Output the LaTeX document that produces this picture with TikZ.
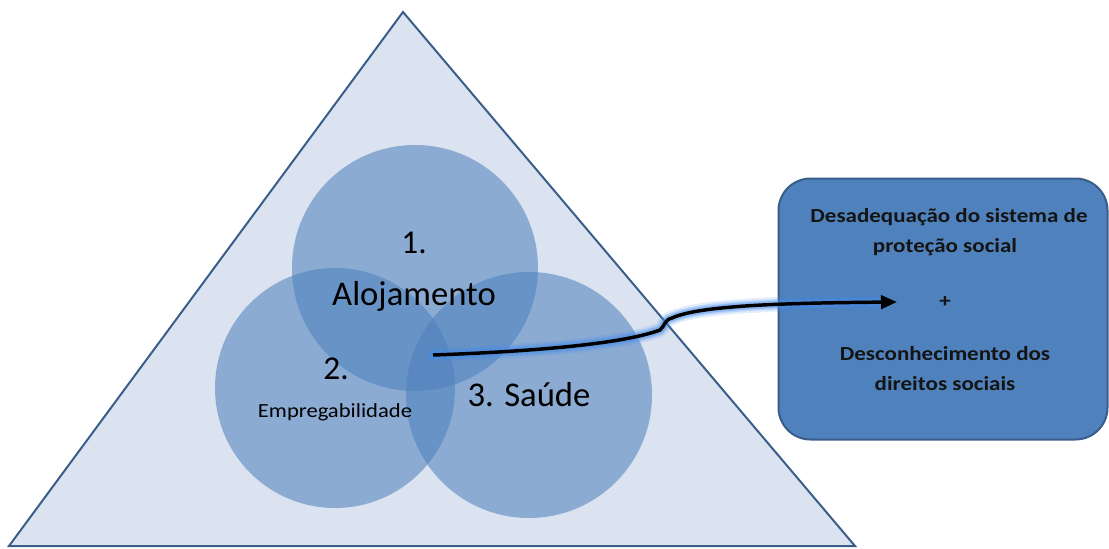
\documentclass[tikz,border=0pt]{standalone}
\usepackage{fontspec}
\setmainfont{Carlito}
\newfontfamily\wideboxfont[FakeStretch=1.15]{Carlito}
\newfontfamily\widesmallfont[FakeStretch=1.13]{Carlito}
\usetikzlibrary{arrows.meta}
\definecolor{trifill}{RGB}{220,227,240}
\definecolor{triline}{RGB}{58,94,138}
\definecolor{circfill}{RGB}{79,129,189}
\definecolor{boxfill}{RGB}{79,129,189}
\definecolor{boxline}{RGB}{56,93,138}
\definecolor{glow}{RGB}{70,140,235}
\tikzset{
  venn/.style={circle, fill=circfill, fill opacity=0.57, inner sep=0pt},
  lbl/.style={text=black, inner sep=0pt, align=center},
  boxtxt/.style={font=\wideboxfont\fontsize{15}{18}\selectfont\bfseries, text=black!92, inner sep=0pt},
}
\begin{document}
\begin{tikzpicture}[x=0.75pt,y=-0.75pt]
\useasboundingbox (0,0) rectangle (1109,549);
% triangle
\draw[triline, line width=1.5pt, fill=trifill, line join=miter] (403,12) -- (855,546) -- (9,546) -- cycle;
% circles
\node[venn, minimum size=246*0.75pt] (c1) at (415,268) {};
\node[venn, minimum size=240*0.75pt] (c2) at (335,388) {};
\node[venn, minimum size=246*0.75pt] (c3) at (529,395) {};
% labels
\node[lbl, font=\fontsize{25}{28}\selectfont] (l1a) at (414,243) {1.};
\node[lbl, font=\fontsize{26}{30}\selectfont] (l1b) at (414,296) {Alojamento};
\node[lbl, font=\fontsize{25}{28}\selectfont] (l2a) at (336,369) {2.};
\node[lbl, font=\widesmallfont\fontsize{15}{18}\selectfont] (l2b) at (335,412) {Empregabilidade};
\node[lbl, font=\fontsize{26}{30}\selectfont] (l3) at (529,395) {3. Saúde};
% box
\node[draw=boxline, line width=1.5pt, fill=boxfill, rounded corners=24pt, minimum width=329*0.75pt, minimum height=261*0.75pt] (box) at (943,309) {};
\node[boxtxt] (t1) at (949,217) {Desadequação do sistema de};
\node[boxtxt] (t2) at (945,247) {proteção social};
\node[boxtxt] (t3) at (945,302) {+};
\node[boxtxt] (t4) at (945,354) {Desconhecimento dos};
\node[boxtxt] (t5) at (945,384) {direitos sociais};
% connector
\coordinate (s) at (433,355);
\coordinate (e) at (897,302);
\coordinate (w1) at (660,330);
\coordinate (w2) at (672,318);
\foreach \w/\o in {11/0.15,8/0.25,5.5/0.4}{
  \draw[glow, line width=\w pt, opacity=\o, line cap=round]
    (s) .. controls (520,352) and (620,345) .. (w1) .. controls (665,326) and (664,320) .. (w2) .. controls (700,305) and (790,303) .. (884,302);
}
\draw[black, line width=2.6pt, -{Triangle[length=12pt,width=10pt]}]
  (s) .. controls (520,352) and (620,345) .. (w1) .. controls (665,326) and (664,320) .. (w2) .. controls (700,305) and (790,303) .. (e);
\end{tikzpicture}
\end{document}
